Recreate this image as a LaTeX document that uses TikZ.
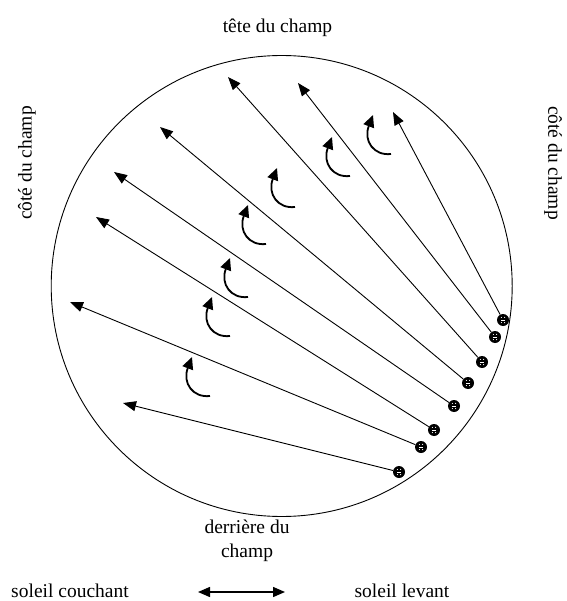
\documentclass[tikz,border=0pt]{standalone}
\usepackage{fontspec}
\setmainfont{Liberation Serif}
\usetikzlibrary{arrows.meta}
\newcommand\curlyarr[3]{\draw[curl] (#2+18,#3+39) .. controls (#2+1,#3+41) and (#2-10,#3+26) .. (#2,#3) coordinate (#1);}
\begin{document}
\begin{tikzpicture}[x=1pt,y=-1pt,
 lbl/.style={font=\fontsize{19.5}{24}\selectfont, inner sep=0pt},
 ray/.style={line width=0.9pt, -{Triangle[length=13pt,width=10pt]}},
 curl/.style={line width=1.8pt, -{Triangle[length=12pt,width=11pt]}},
 dbl/.style={line width=1.4pt, {Triangle[length=12pt,width=10pt]}-{Triangle[length=12pt,width=10pt]}},
 marker/.style={circle, fill=black, minimum size=12pt, inner sep=0pt}]
\useasboundingbox (0,0) rectangle (566,601);
% field
\node[circle, draw, line width=0.9pt, minimum size=461pt, inner sep=0pt] (field) at (281.7,286) {};
% labels
\node[lbl] (head) at (277.5,28) {tête du champ};
\node[lbl, align=center] (back) at (247,541) {derrière du\\champ};
\node[lbl] (west) at (70,591) {soleil couchant};
\node[lbl] (east) at (402,591) {soleil levant};
\node[lbl, rotate=90] (leftside) at (27,163) {côté du champ};
\node[lbl, rotate=-90] (rightside) at (553,163) {côté du champ};
% sun direction
\coordinate (dl) at (198,592);
\coordinate (dr) at (285,592);
\draw[dbl] (dl) -- (dr);
% markers
\node[marker] (m1) at (503,320) {};
\node[marker] (m2) at (495,337) {};
\node[marker] (m3) at (482,362) {};
\node[marker] (m4) at (468,383) {};
\node[marker] (m5) at (454,406) {};
\node[marker] (m6) at (434,430) {};
\node[marker] (m7) at (421,447) {};
\node[marker] (m8) at (399,472) {};
\foreach \m in {m1,m2,m3,m4,m5,m6,m7,m8}{
  \fill[white] ([shift={(-1.8,0)}]\m.center) rectangle ([shift={(1.8,0.7)}]\m.center);
  \fill[white] ([shift={(-1.6,-2.6)}]\m.center) circle (0.55);
  \fill[white] ([shift={(1.6,-2.6)}]\m.center) circle (0.55);
  \fill[white] ([shift={(-1.6,2.6)}]\m.center) circle (0.55);
  \fill[white] ([shift={(1.6,2.6)}]\m.center) circle (0.55);
}
% ray tips
\coordinate (t1) at (393,112);
\coordinate (t2) at (298,83);
\coordinate (t3) at (228,77);
\coordinate (t4) at (160,127);
\coordinate (t5) at (114,172);
\coordinate (t6) at (96,217);
\coordinate (t7) at (70,302);
\coordinate (t8) at (123,403);
\foreach \i in {1,...,8}{\draw[ray] (m\i) -- (t\i);}
% curly arrows
\curlyarr{c1}{373}{115}
\curlyarr{c2}{332}{137}
\curlyarr{c3}{277}{168}
\curlyarr{c4}{248}{205}
\curlyarr{c5}{230}{258}
\curlyarr{c6}{212}{297}
\curlyarr{c7}{192}{357}
\end{tikzpicture}
\end{document}
